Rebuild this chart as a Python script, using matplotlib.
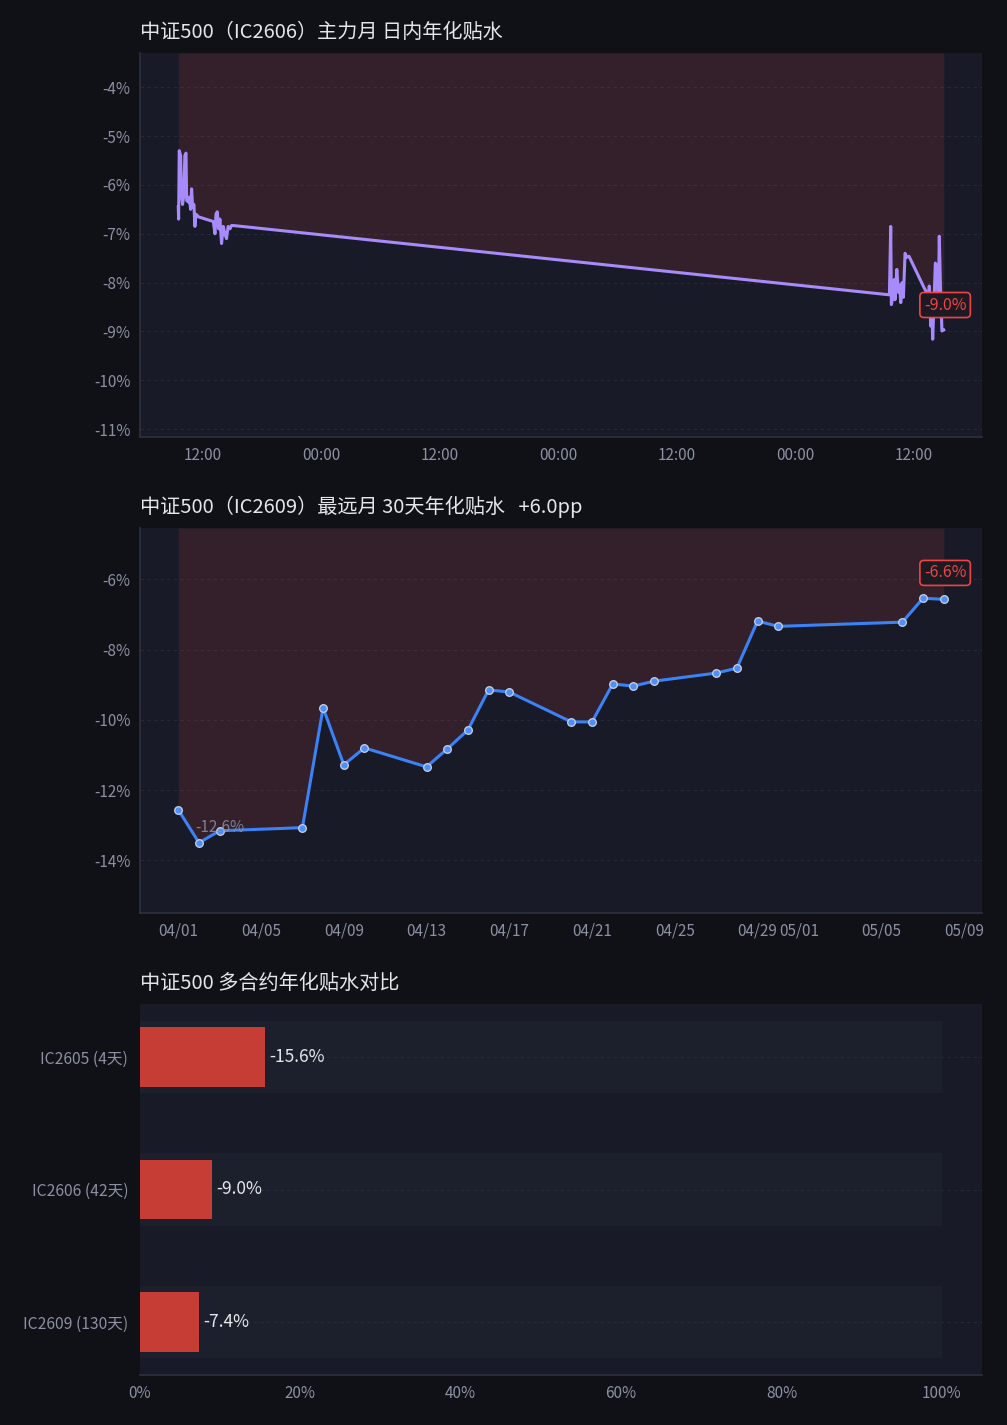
import matplotlib
matplotlib.use("Agg")
import matplotlib.pyplot as plt
import matplotlib.dates as mdates
from matplotlib.ticker import MultipleLocator, FuncFormatter
import pandas as pd
import numpy as np

plt.rcParams['font.family'] = ['Noto Sans CJK SC', 'DejaVu Sans']
plt.rcParams['axes.unicode_minus'] = False

# ---------------- data ----------------
# Top: IC2606 intraday annualised basis (%)
day1_date = "2026-05-08"
day1_times = ["09:30", "09:32", "09:36", "09:44", "09:50", "09:56", "10:04", "10:10", "10:17",
              "10:21", "10:31", "10:37", "10:45", "10:51", "10:57", "11:05", "11:11", "11:17",
              "11:25", "11:29",
              "13:03", "13:13", "13:19", "13:27", "13:35", "13:43", "13:53", "14:03", "14:13",
              "14:23", "14:33", "14:44", "14:54", "15:00"]
day1_vals = [-6.45, -6.70, -5.30, -5.40, -6.22, -6.40, -6.20, -5.40, -5.35,
             -6.32, -6.35, -6.25, -6.50, -6.08, -6.45, -6.40, -6.85, -6.60,
             -6.62, -6.65,
             -6.75, -7.00, -6.60, -6.55, -6.90, -6.70, -7.20, -6.85, -7.00,
             -7.10, -6.85, -6.90, -6.83, -6.83]
day2_date = "2026-05-11"
day2_times = ["09:30", "09:38", "09:42", "09:50", "09:58", "10:04", "10:15", "10:25", "10:31",
              "10:39", "10:47", "10:55", "11:05", "11:15", "11:29",
              "13:00", "13:16", "13:26", "13:32", "13:41", "13:47", "13:53", "14:01", "14:09",
              "14:17", "14:27", "14:33", "14:41", "14:49", "15:00"]
day2_vals = [-8.25, -6.85, -8.45, -8.30, -7.94, -8.35, -7.73, -8.20, -8.05,
             -8.41, -8.00, -8.30, -7.40, -7.48, -7.46,
             -8.10, -8.20, -8.60, -8.07, -8.89, -8.50, -9.16, -8.40, -7.60,
             -7.65, -8.50, -7.05, -8.20, -8.99, -8.97]

# Middle: IC2609 30-day annualised basis (%)
far_dates = ["2026-04-01", "2026-04-02", "2026-04-03", "2026-04-07", "2026-04-08", "2026-04-09",
             "2026-04-10", "2026-04-13", "2026-04-14", "2026-04-15", "2026-04-16", "2026-04-17",
             "2026-04-20", "2026-04-21", "2026-04-22", "2026-04-23", "2026-04-24", "2026-04-27",
             "2026-04-28", "2026-04-29", "2026-04-30", "2026-05-06", "2026-05-07", "2026-05-08"]
far_vals = [-12.56, -13.50, -13.16, -13.07, -9.66, -11.28,
            -10.80, -11.34, -10.83, -10.29, -9.15, -9.21,
            -10.06, -10.06, -8.98, -9.04, -8.90, -8.67,
            -8.53, -7.19, -7.34, -7.22, -6.54, -6.57]

# Bottom: contracts comparison
contracts = ["IC2605 (4天)", "IC2606 (42天)", "IC2609 (130天)"]
contract_basis = [-15.6, -9.0, -7.4]

# ---------------- style ----------------
FIG_BG = '#0f1116'
AX_BG = '#181b27'
GRID = '#262a38'
SPINE = '#2c3040'
TICK = '#8b90a4'
TITLE = '#e4e6eb'
RED = '#ef4444'
BAR_RED = '#c53d35'
VIOLET = '#a78bfa'
BLUE = '#3b82f6'
TS = 14.5
LS = 11

fig = plt.figure(figsize=(10.07, 14.25), dpi=100, facecolor=FIG_BG)
W, H = 1007, 1425


def add_ax(left, top, right, bottom):
    return fig.add_axes([left / W, 1 - bottom / H, (right - left) / W, (bottom - top) / H])


def style(ax):
    ax.set_facecolor(AX_BG)
    for s in ['top', 'right']:
        ax.spines[s].set_visible(False)
    for s in ['left', 'bottom']:
        ax.spines[s].set_color(SPINE)
        ax.spines[s].set_linewidth(1.2)
    ax.tick_params(colors=TICK, labelsize=LS, length=0)
    ax.tick_params(axis='y', pad=7)
    ax.tick_params(axis='x', pad=7)


pct = FuncFormatter(lambda v, p: f"{v:.0f}%")

# ---- top chart ----
ax1 = add_ax(140, 53, 982, 437)
style(ax1)
t1 = pd.to_datetime([f"{day1_date} {t}" for t in day1_times] + [f"{day2_date} {t}" for t in day2_times])
v1 = np.array(day1_vals + day2_vals)
lo1, hi1 = v1.min() - 2, v1.max() + 2
ax1.fill_between(t1, v1, hi1, color=RED, alpha=0.13, linewidth=0)
ax1.plot(t1, v1, color=VIOLET, linewidth=2.2, solid_joinstyle='round')
ax1.set_ylim(lo1, hi1)
ax1.yaxis.set_major_locator(MultipleLocator(1))
ax1.yaxis.set_major_formatter(pct)
ax1.xaxis.set_major_locator(mdates.HourLocator(byhour=[0, 12]))
ax1.xaxis.set_major_formatter(mdates.DateFormatter('%H:%M'))
ax1.grid(axis='y', color=GRID, linestyle=(0, (3, 3)), linewidth=0.8)
ax1.set_axisbelow(True)
ax1.set_title("中证500（IC2606）主力月 日内年化贴水", loc='left', color=TITLE, fontsize=TS, pad=11)
ax1.annotate(f"{v1[-1]:.1f}%", xy=(t1[-1], v1[-1]), xytext=(1, 18), textcoords='offset points',
             ha='center', va='center', color=RED, fontsize=11.5,
             bbox=dict(boxstyle='round,pad=0.25', fc='#1d1a24', ec=RED, lw=1.2))

# ---- middle chart ----
ax2 = add_ax(140, 528, 982, 913)
style(ax2)
d2 = pd.to_datetime(far_dates)
v2 = np.array(far_vals)
lo2, hi2 = v2.min() - 2, v2.max() + 2
ax2.fill_between(d2, v2, hi2, color=RED, alpha=0.13, linewidth=0)
ax2.plot(d2, v2, color=BLUE, linewidth=2.2, marker='o', markersize=5.5,
         markerfacecolor='#4f8ff7', markeredgecolor='#c9d3e6', markeredgewidth=0.9)
ax2.set_ylim(lo2, hi2)
ax2.yaxis.set_major_locator(MultipleLocator(2))
ax2.yaxis.set_major_formatter(pct)
ax2.xaxis.set_major_locator(mdates.DayLocator(bymonthday=[1, 5, 9, 13, 17, 21, 25, 29]))
ax2.xaxis.set_major_formatter(mdates.DateFormatter('%m/%d'))
ax2.grid(axis='y', color=GRID, linestyle=(0, (3, 3)), linewidth=0.8)
ax2.set_axisbelow(True)
change = v2[-1] - v2[0]
ax2.set_title(f"中证500（IC2609）最远月 30天年化贴水   {change:+.1f}pp", loc='left',
              color=TITLE, fontsize=TS, pad=11)
ax2.annotate(f"{v2[-1]:.1f}%", xy=(d2[-1], v2[-1]), xytext=(1, 19), textcoords='offset points',
             ha='center', va='center', color=RED, fontsize=11.5,
             bbox=dict(boxstyle='round,pad=0.25', fc='#1d1a24', ec=RED, lw=1.2))
ax2.annotate(f"{v2[0]:.1f}%", xy=(d2[0], v2[0]), xytext=(12, -13), textcoords='offset points',
             ha='left', va='center', color=TICK, fontsize=LS, alpha=0.85)

# ---- bottom chart ----
ax3 = add_ax(140, 1004, 982, 1375)
style(ax3)
ypos = np.arange(len(contracts))
mags = np.abs(np.array(contract_basis))
ax3.barh(ypos, [100] * len(contracts), height=0.55, color='#1c1f2c', zorder=0.3)
ax3.barh(ypos, mags, height=0.45, color=BAR_RED, zorder=2)
for y, m, b in zip(ypos, mags, contract_basis):
    ax3.text(m + 0.5, y, f"{b:.1f}%", va='center', ha='left', color='#e5e7eb', fontsize=12.5, zorder=3)
ax3.set_yticks(ypos)
ax3.set_yticklabels(contracts)
ax3.set_ylim(2.4, -0.4)
ax3.set_xlim(0, 105)
ax3.xaxis.set_major_locator(MultipleLocator(20))
ax3.xaxis.set_major_formatter(pct)
ax3.spines['left'].set_visible(False)
ax3.grid(axis='y', color=GRID, linestyle=(0, (3, 3)), linewidth=0.8)
ax3.set_axisbelow(True)
ax3.tick_params(axis='y', pad=8.5, labelsize=11.3)
ax3.set_title("中证500 多合约年化贴水对比", loc='left', color=TITLE, fontsize=TS, pad=11)

fig.savefig("out.png", dpi=100, facecolor=FIG_BG)
